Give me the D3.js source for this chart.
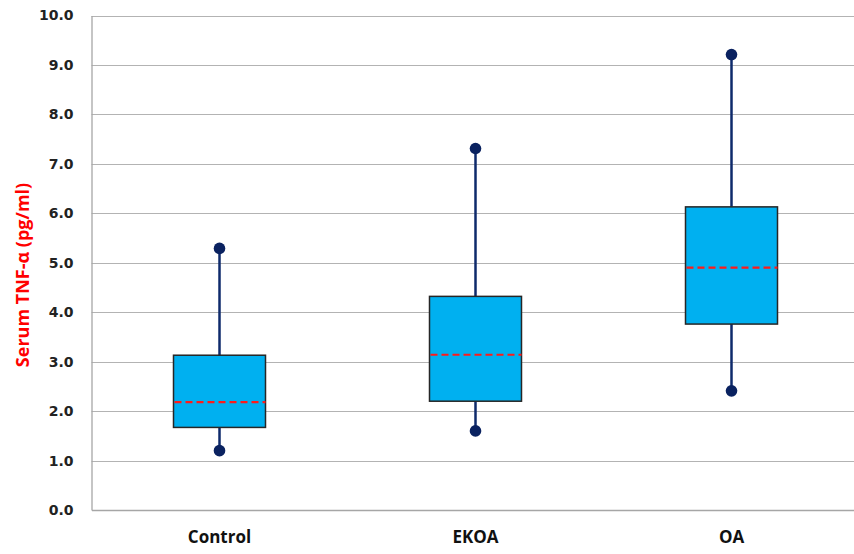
<!DOCTYPE html>
<html><head><meta charset="utf-8">
<script src="https://cdn.jsdelivr.net/npm/d3@7"></script>
<style>body{margin:0;background:#fff}svg{display:block}</style>
</head><body>
<svg id="c" width="854" height="554"></svg>
<script>
const categories = ["Control", "EKOA", "OA"];
const minVals    = [1.20, 1.60, 2.41];
const q1Vals     = [1.67, 2.20, 3.76];
const medianVals = [2.18, 3.14, 4.90];
const q3Vals     = [3.13, 4.32, 6.13];
const maxVals    = [5.29, 7.31, 9.21];
const yTicks     = [0,1,2,3,4,5,6,7,8,9,10];
const yTitle     = "Serum TNF-α (pg/ml)";

const data = categories.map((c,i)=>({c, min:minVals[i], q1:q1Vals[i], med:medianVals[i], q3:q3Vals[i], max:maxVals[i]}));

const svg = d3.select("#c");
const L = 91.5, R = 859.5, T = 15.5, B = 510;
const x = d3.scaleBand().domain(categories).range([L, R]);
const y = d3.scaleLinear().domain([0, 10]).range([B, T]);

// gridlines
svg.append("g").selectAll("line").data(yTicks.filter(d=>d>0)).join("line")
  .attr("x1", L).attr("x2", R).attr("y1", d=>Math.round(y(d))+0.5).attr("y2", d=>Math.round(y(d))+0.5)
  .attr("stroke", "#b3b3b3").attr("stroke-width", 1.2);

// axes
const yAxis = svg.append("g").attr("transform", `translate(${L},0)`)
  .call(d3.axisLeft(y).tickValues(yTicks).tickFormat(d3.format(".1f")).tickSize(0).tickPadding(18));
yAxis.select(".domain").attr("stroke", "#a6a6a6").attr("stroke-width", 1.3);
yAxis.selectAll("text").attr("font-family", "DejaVu Sans, Verdana, sans-serif").attr("font-weight", "bold")
  .attr("font-size", 14).attr("fill", "#222");

const xAxis = svg.append("g").attr("transform", `translate(0,${B})`)
  .call(d3.axisBottom(x).tickSize(0).tickPadding(21));
xAxis.select(".domain").attr("stroke", "#a6a6a6").attr("stroke-width", 1.3);
xAxis.selectAll("text").attr("font-family", "Open Sans, Lato, sans-serif").attr("font-weight", "bold")
  .attr("font-size", 17).attr("fill", "#111");

// y title
svg.append("text").attr("transform", `translate(29,275) rotate(-90)`)
  .attr("text-anchor", "middle").attr("font-family", "Open Sans, Lato, sans-serif").attr("font-weight", "bold")
  .attr("font-size", 18).attr("fill", "#ff0000").text(yTitle);

const bw = 92;
const g = svg.append("g").selectAll("g").data(data).join("g")
  .attr("transform", d=>`translate(${x(d.c)+x.bandwidth()/2},0)`);

// whiskers
g.append("line").attr("x1",0).attr("x2",0).attr("y1", d=>y(d.max)).attr("y2", d=>y(d.q3))
  .attr("stroke", "#0e2a6b").attr("stroke-width", 2.5);
g.append("line").attr("x1",0).attr("x2",0).attr("y1", d=>y(d.q1)).attr("y2", d=>y(d.min))
  .attr("stroke", "#0e2a6b").attr("stroke-width", 2.5);
// box
g.append("rect").attr("x", -bw/2).attr("width", bw).attr("y", d=>y(d.q3)).attr("height", d=>y(d.q1)-y(d.q3))
  .attr("fill", "#00b0f0").attr("stroke", "#262626").attr("stroke-width", 1.5);
// median
g.append("line").attr("x1", -bw/2+1).attr("x2", bw/2).attr("y1", d=>y(d.med)).attr("y2", d=>y(d.med))
  .attr("stroke", "#ff1a1a").attr("stroke-width", 2.2).attr("stroke-dasharray", "7,4");
// end dots
g.append("circle").attr("cy", d=>y(d.max)).attr("r", 5.8).attr("fill", "#0a2260");
g.append("circle").attr("cy", d=>y(d.min)).attr("r", 5.8).attr("fill", "#0a2260");
</script>
</body></html>
